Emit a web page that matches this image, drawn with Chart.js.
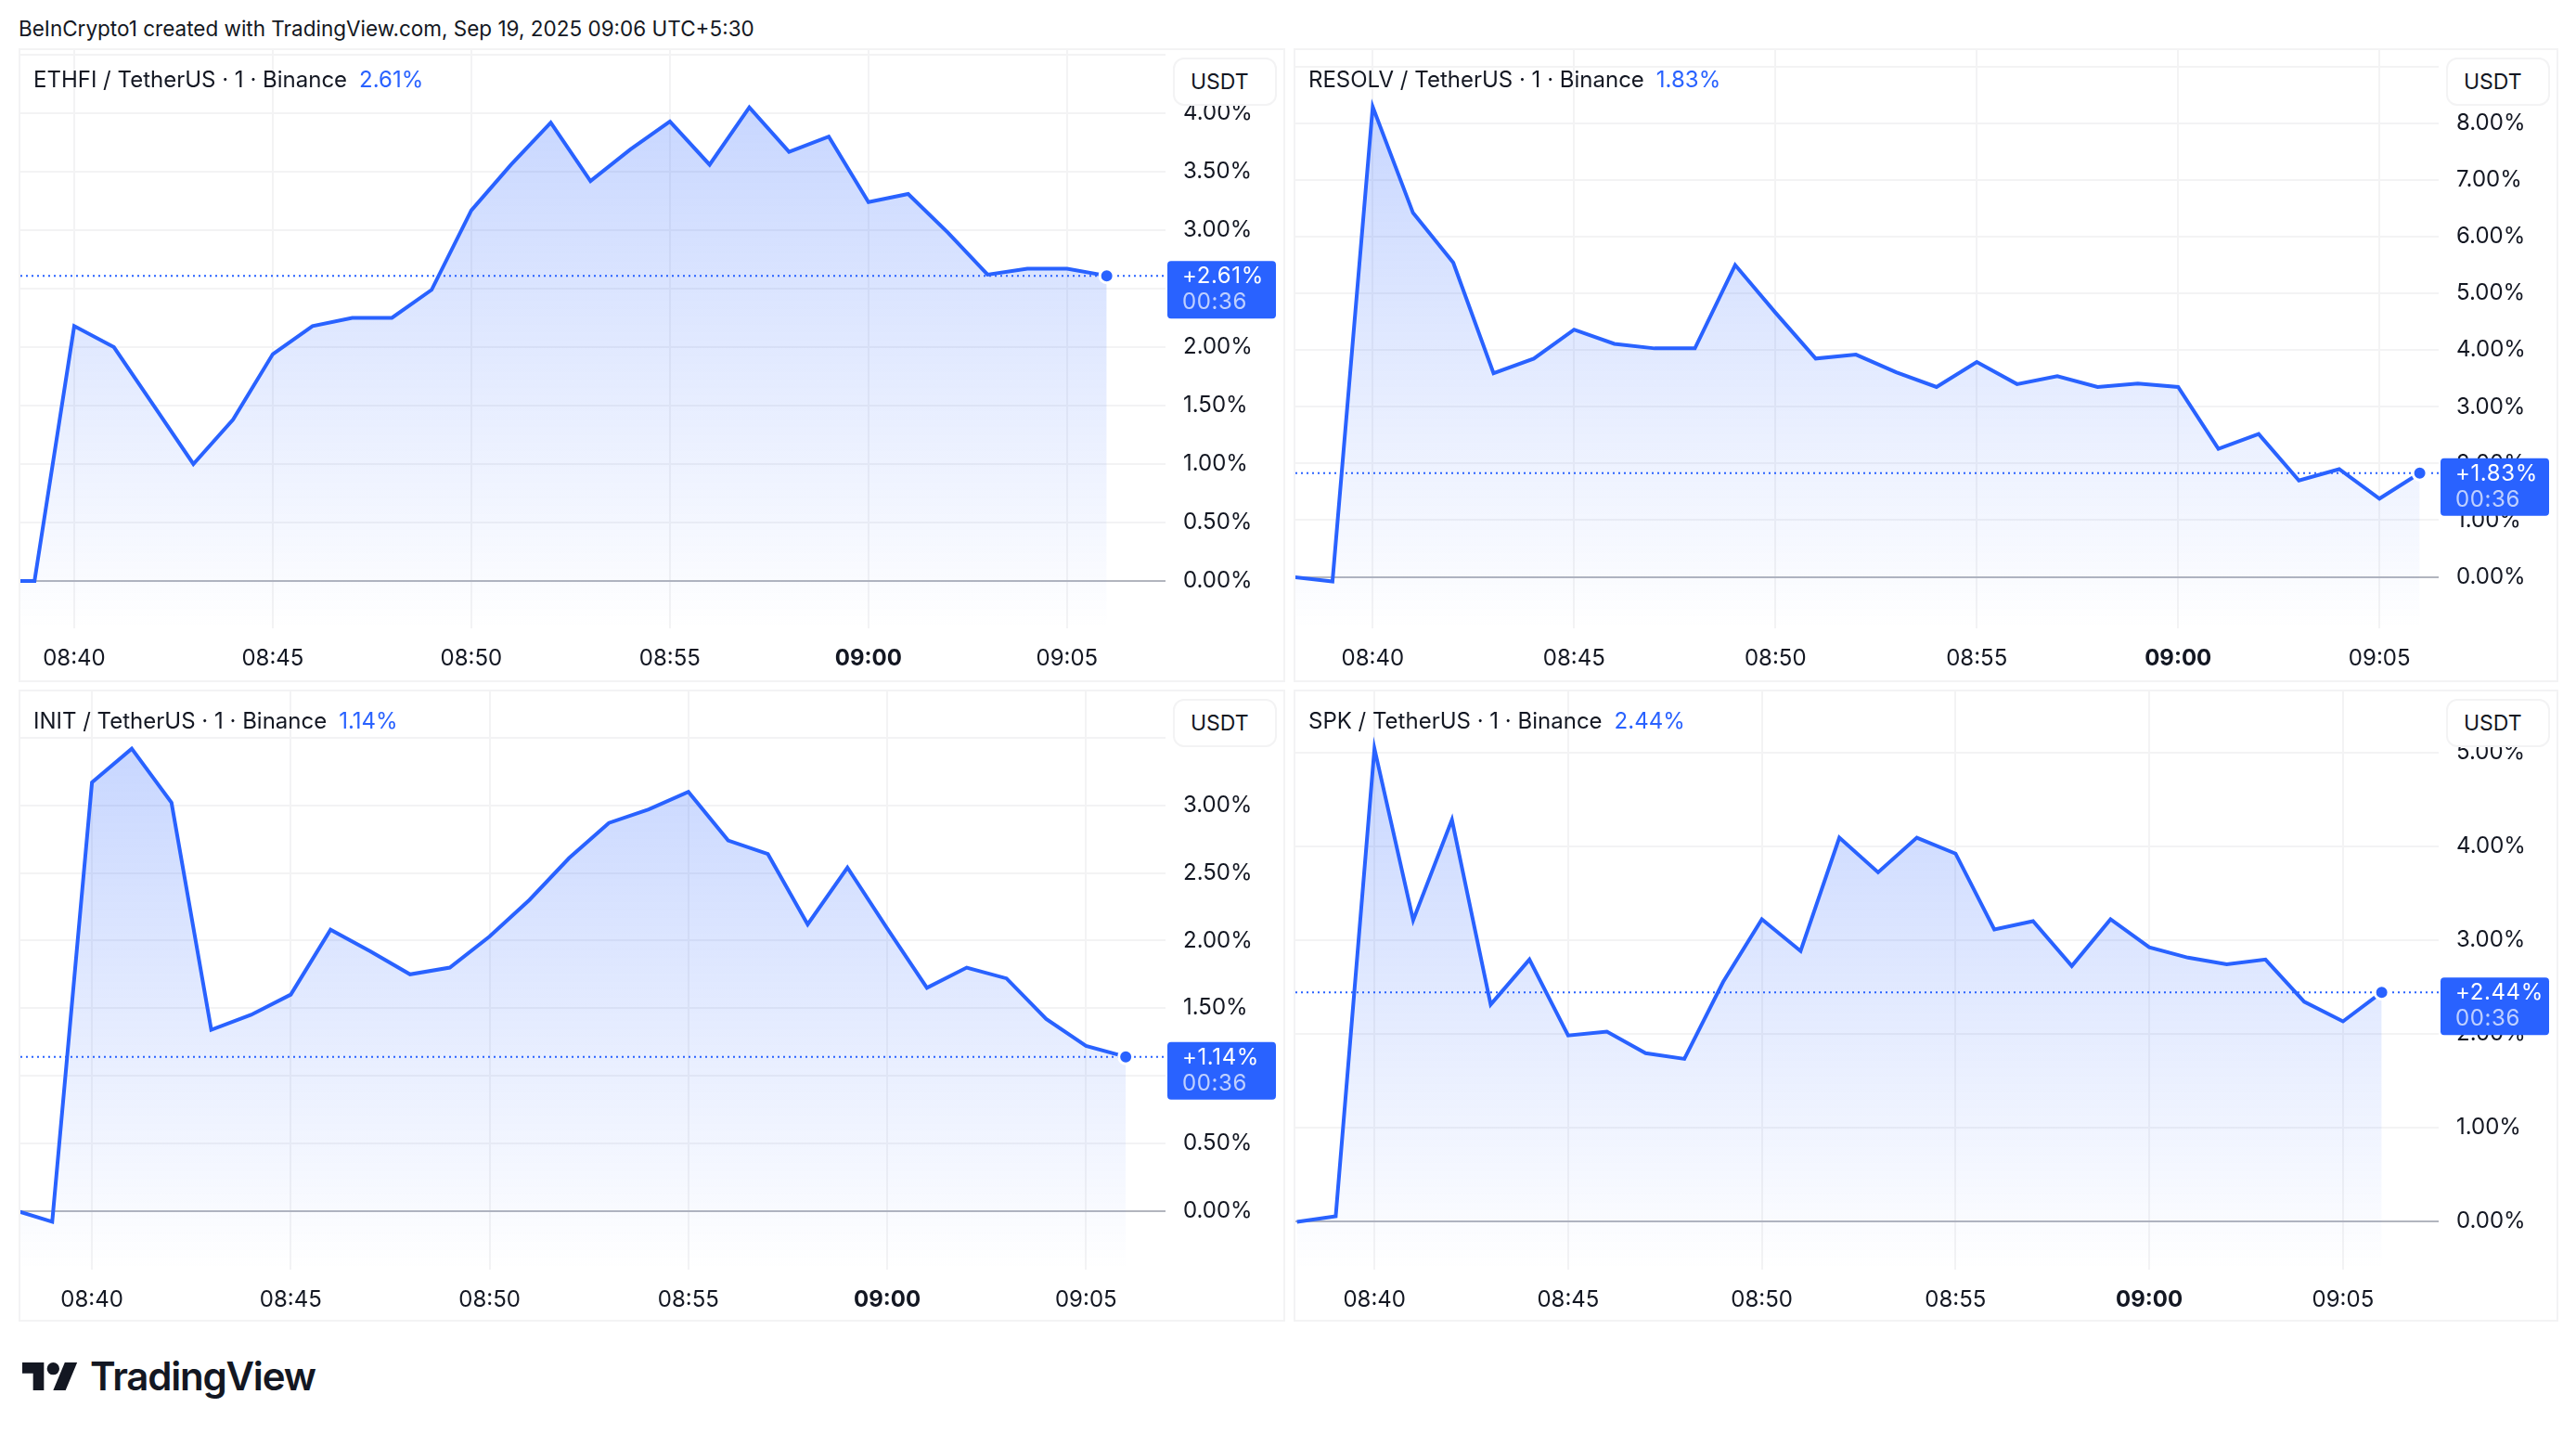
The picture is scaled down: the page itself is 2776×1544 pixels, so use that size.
<!DOCTYPE html>
<html>
<head>
<meta charset="utf-8">
<title>TradingView multi chart</title>
<script src="https://cdn.jsdelivr.net/npm/chart.js@4/dist/chart.umd.min.js"></script>
<style>
html, body { margin: 0; padding: 0; background: #fff; }
body { width: 2776px; height: 1544px; position: relative; overflow: hidden; font-family: Inter, sans-serif; color: #131722; }
.caption { position: absolute; left: 20px; top: 16px; font-size: 22.5px; line-height: 30px; white-space: nowrap; }
.panel { position: absolute; box-sizing: border-box; border: 2px solid #f3f3f4; }
.panel canvas { position: absolute; left: 0; top: 0; }
.title { position: absolute; left: 14px; top: 17px; font-size: 24px; line-height: 30px; white-space: nowrap; }
.title span { color: #2962ff; margin-left: 13px; }
.unit { position: absolute; top: 8px; box-sizing: border-box; width: 112px; height: 52px; background: #fff; border: 2px solid #f3f3f4; border-radius: 12px; font-size: 23px; line-height: 48px; padding-left: 17px; }
.logo { position: absolute; left: 24px; top: 1468px; }
.brand { position: absolute; left: 97px; top: 1458px; font-size: 42px; line-height: 50px; font-weight: 600; letter-spacing: -1.2px; color: #131722; }
</style>
</head>
<body>
<div class="caption">BeInCrypto1 created with TradingView.com, Sep 19, 2025 09:06 UTC+5:30</div>
<div id="panels"></div>
<svg class="logo" width="60" height="30" viewBox="0 4 36 18"><path fill="#131722" d="M14 22H7V11H0V4h14v18zM28 22h-8l7.5-18h8L28 22z"/><circle fill="#131722" cx="20" cy="8" r="4"/></svg>
<div class="brand">TradingView</div>

<script>
// minutes after 08:00
var minutes = [38, 39, 40, 41, 42, 43, 44, 45, 46, 47, 48, 49, 50, 51, 52, 53, 54, 55, 56, 57, 58, 59, 60, 61, 62, 63, 64, 65, 66];
var xTickMinutes = [40, 45, 50, 55, 60, 65];
var xTickLabels = ["08:40", "08:45", "08:50", "08:55", "09:00", "09:05"];

var ethfiValues = [0, 0, 2.18, 2.0, 1.5, 1.0, 1.38, 1.94, 2.18, 2.25, 2.25, 2.49, 3.17, 3.56, 3.92, 3.42, 3.69, 3.93, 3.56, 4.05, 3.67, 3.8, 3.24, 3.31, 2.98, 2.62, 2.67, 2.67, 2.61];
var resolvValues = [0, -0.08, 8.29, 6.42, 5.54, 3.59, 3.85, 4.36, 4.11, 4.03, 4.03, 5.5, 4.66, 3.85, 3.92, 3.61, 3.35, 3.79, 3.4, 3.54, 3.35, 3.41, 3.35, 2.26, 2.52, 1.7, 1.9, 1.38, 1.83];
var initValues = [0.01, -0.08, 3.17, 3.42, 3.02, 1.34, 1.45, 1.6, 2.08, 1.92, 1.75, 1.8, 2.03, 2.3, 2.61, 2.87, 2.97, 3.1, 2.74, 2.64, 2.12, 2.54, 2.09, 1.65, 1.8, 1.72, 1.42, 1.22, 1.14];
var spkValues = [-0.01, 0.05, 5.04, 3.21, 4.28, 2.31, 2.79, 1.98, 2.02, 1.79, 1.73, 2.55, 3.22, 2.88, 4.09, 3.72, 4.09, 3.92, 3.11, 3.2, 2.72, 3.22, 2.92, 2.81, 2.74, 2.79, 2.34, 2.13, 2.44];

var ethfiTicks = [0, 0.5, 1, 1.5, 2, 2.5, 3, 3.5, 4, 4.5];
var resolvTicks = [0, 1, 2, 3, 4, 5, 6, 7, 8, 9];
var initTicks = [0, 0.5, 1, 1.5, 2, 2.5, 3, 3.5];
var spkTicks = [0, 1, 2, 3, 4, 5];

var names = ["ETHFI / TetherUS \u00b7 1 \u00b7 Binance", "RESOLV / TetherUS \u00b7 1 \u00b7 Binance", "INIT / TetherUS \u00b7 1 \u00b7 Binance", "SPK / TetherUS \u00b7 1 \u00b7 Binance"];
var changes = [2.61, 1.83, 1.14, 2.44];
var countdown = "00:36";

var BLUE = "#2962ff";
var GRID = "#f3f3f4";
var ZERO = "#b2b5be";
var TEXT = "#131722";
var FONT = "Inter, sans-serif";

var panels = [
    { values: ethfiValues, ticks: ethfiTicks, lastLabel: 4, xMin: 38.645, xMax: 67.48, yMin: -0.405, yMax: 4.54, left: 20, top: 52, right: 1385, bottom: 735, plotRight: 1256, plotBottom: 677 },
    { values: resolvValues, ticks: resolvTicks, lastLabel: 8, xMin: 38.08, xMax: 66.47, yMin: -0.907, yMax: 9.29, left: 1394, top: 52, right: 2757, bottom: 735, plotRight: 2628, plotBottom: 677 },
    { values: initValues, ticks: initTicks, lastLabel: 3, xMin: 38.2, xMax: 67, yMin: -0.435, yMax: 3.843, left: 20, top: 743, right: 1385, bottom: 1424, plotRight: 1256, plotBottom: 1368 },
    { values: spkValues, ticks: spkTicks, lastLabel: 5, xMin: 37.96, xMax: 67.47, yMin: -0.519, yMax: 5.65, left: 1394, top: 743, right: 2757, bottom: 1424, plotRight: 2628, plotBottom: 1368 }
];

// chart.js pads the plot for half a label, the plot here runs edge to edge
function noScalePadding(s) {
    s.paddingLeft = 0;
    s.paddingRight = 0;
    s.paddingTop = 0;
    s.paddingBottom = 0;
}

// price tag on the right axis, follows the last value
var priceTag = {
    id: "priceTag",
    afterDraw: function (chart, args, opts) {
        var ctx = chart.ctx;
        var y = chart.scales.y.getPixelForValue(opts.value);
        var x = chart.chartArea.right + 2;
        ctx.save();
        ctx.fillStyle = BLUE;
        ctx.beginPath();
        ctx.roundRect(x, y - 16, 117, 62, 4);
        ctx.fill();
        ctx.font = "24px " + FONT;
        ctx.letterSpacing = "0.6px";
        ctx.textBaseline = "middle";
        ctx.textAlign = "left";
        ctx.fillStyle = "#fff";
        ctx.fillText("+" + opts.value.toFixed(2) + "%", x + 16, y + 1);
        ctx.fillStyle = "rgba(255,255,255,0.7)";
        ctx.fillText(countdown, x + 16, y + 29);
        ctx.restore();
    }
};

function makeChart(p, i) {
    var box = document.createElement("div");
    box.className = "panel";
    box.style.left = p.left + "px";
    box.style.top = p.top + "px";
    box.style.width = (p.right - p.left) + "px";
    box.style.height = (p.bottom - p.top) + "px";

    var canvas = document.createElement("canvas");
    var w = p.right - p.left - 4;
    var h = p.bottom - p.top - 4;
    canvas.style.width = w + "px";
    canvas.style.height = h + "px";
    canvas.width = w;
    canvas.height = h;
    box.appendChild(canvas);

    var title = document.createElement("div");
    title.className = "title";
    title.innerHTML = names[i] + "<span>" + changes[i].toFixed(2) + "%</span>";
    box.appendChild(title);

    var unit = document.createElement("div");
    unit.className = "unit";
    unit.style.left = (p.plotRight + 8 - p.left - 2) + "px";
    unit.textContent = "USDT";
    box.appendChild(unit);

    document.getElementById("panels").appendChild(box);

    var last = p.values.length - 1;
    var lineData = minutes.map(function (m, k) { return { x: m, y: p.values[k] }; });

    new Chart(canvas.getContext("2d"), {
        type: "line",
        plugins: [priceTag],
        data: {
            datasets: [{
                data: lineData,
                borderColor: BLUE,
                borderWidth: 4,
                borderJoinStyle: "miter",
                tension: 0,
                fill: "start",
                backgroundColor: function (c) {
                    var area = c.chart.chartArea;
                    if (!area) return "rgba(41,98,255,0.1)";
                    var top = c.chart.scales.y.getPixelForValue(Math.max.apply(null, p.values));
                    var g = c.chart.ctx.createLinearGradient(0, top, 0, area.bottom);
                    g.addColorStop(0, "rgba(41,98,255,0.26)");
                    g.addColorStop(1, "rgba(41,98,255,0)");
                    return g;
                },
                pointRadius: function (c) { return c.dataIndex === last ? 7.5 : 0; },
                pointBackgroundColor: BLUE,
                pointBorderColor: "#fff",
                pointBorderWidth: 3,
                order: 1
            }, {
                data: [{ x: p.xMin, y: p.values[last] }, { x: p.xMax, y: p.values[last] }],
                borderColor: BLUE,
                borderWidth: 2,
                borderDash: [2, 4],
                pointRadius: 0,
                fill: false,
                order: 2
            }]
        },
        options: {
            responsive: false,
            animation: false,
            events: [],
            layout: { padding: 0, autoPadding: false },
            plugins: {
                legend: { display: false },
                tooltip: { enabled: false },
                priceTag: { value: changes[i] }
            },
            scales: {
                x: {
                    type: "linear",
                    min: p.xMin,
                    max: p.xMax,
                    afterFit: function (s) {
                        s.height = p.bottom - 2 - p.plotBottom;
                        noScalePadding(s);
                    },
                    afterBuildTicks: function (s) { s.ticks = xTickMinutes.map(function (v) { return { value: v }; }); },
                    grid: { color: GRID, lineWidth: 2, drawTicks: false },
                    border: { display: false },
                    ticks: {
                        autoSkip: false,
                        maxRotation: 0,
                        padding: 18,
                        color: TEXT,
                        font: function (c) {
                            return { family: FONT, size: 24, weight: c.tick && c.tick.value === 60 ? "700" : "400" };
                        },
                        callback: function (v) { return xTickLabels[xTickMinutes.indexOf(v)]; }
                    }
                },
                y: {
                    type: "linear",
                    position: "right",
                    min: p.yMin,
                    max: p.yMax,
                    afterFit: function (s) {
                        s.width = p.right - 2 - p.plotRight;
                        noScalePadding(s);
                    },
                    afterBuildTicks: function (s) { s.ticks = p.ticks.map(function (v) { return { value: v }; }); },
                    grid: {
                        lineWidth: 2,
                        drawTicks: false,
                        color: function (c) { return c.tick && c.tick.value === 0 ? ZERO : GRID; }
                    },
                    border: { display: false },
                    ticks: {
                        autoSkip: false,
                        padding: 19,
                        crossAlign: "near",
                        color: TEXT,
                        font: { family: FONT, size: 24 },
                        callback: function (v) { return v > p.lastLabel ? "" : v.toFixed(2) + "%"; }
                    }
                }
            }
        }
    });
}

document.addEventListener("DOMContentLoaded", function () {
    panels.forEach(makeChart);
});
</script>
</body>
</html>
